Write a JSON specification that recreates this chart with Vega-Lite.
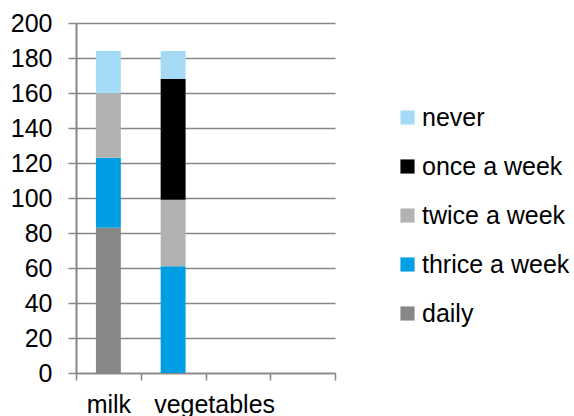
{
  "$schema": "https://vega.github.io/schema/vega-lite/v6.json",
  "width": 259,
  "height": 350,
  "autosize": "none",
  "padding": {"left": 76, "top": 23, "right": 239, "bottom": 43},
  "background": "white",
  "config": {
    "view": {"stroke": null},
    "font": "Liberation Sans"
  },
  "data": {
    "values": [
      {"item": "milk", "freq": "daily", "rank": 1, "count": 83},
      {"item": "milk", "freq": "thrice a week", "rank": 2, "count": 40},
      {"item": "milk", "freq": "twice a week", "rank": 3, "count": 37},
      {"item": "milk", "freq": "never", "rank": 5, "count": 24},
      {"item": "vegetables", "freq": "thrice a week", "rank": 2, "count": 61},
      {"item": "vegetables", "freq": "twice a week", "rank": 3, "count": 38},
      {"item": "vegetables", "freq": "once a week", "rank": 4, "count": 69},
      {"item": "vegetables", "freq": "never", "rank": 5, "count": 16}
    ]
  },
  "mark": {"type": "bar", "width": {"band": 0.385}},
  "encoding": {
    "x": {
      "field": "item",
      "type": "nominal",
      "scale": {"domain": ["milk", "vegetables", "c3", "c4"], "paddingInner": 0, "paddingOuter": 0},
      "axis": {
        "title": null,
        "labelAngle": 0,
        "labelExpr": "datum.value == 'milk' || datum.value == 'vegetables' ? datum.value : ''",
        "labelFont": "Liberation Sans",
        "labelFontSize": 25,
        "labelColor": "black",
        "labelPadding": 12,
        "labelOverlap": false,
        "labelOffset": {"condition": {"test": "datum.value == 'vegetables'", "value": 41}, "value": 0},
        "tickBand": "extent",
        "tickSize": 7,
        "tickColor": "#878787",
        "tickWidth": 1.5,
        "domainColor": "#878787",
        "domainWidth": 1.5,
        "grid": false
      }
    },
    "y": {
      "field": "count",
      "type": "quantitative",
      "stack": "zero",
      "scale": {"domain": [0, 200], "nice": false},
      "axis": {
        "title": null,
        "values": [0, 20, 40, 60, 80, 100, 120, 140, 160, 180, 200],
        "labelFont": "Liberation Sans",
        "labelFontSize": 25,
        "labelColor": "black",
        "labelPadding": 16,
        "tickSize": 8,
        "tickColor": "#878787",
        "tickWidth": 1.5,
        "domainColor": "#878787",
        "domainWidth": 2,
        "grid": true,
        "gridColor": "#878787",
        "gridWidth": 1.5
      }
    },
    "color": {
      "field": "freq",
      "type": "nominal",
      "sort": ["never", "once a week", "twice a week", "thrice a week", "daily"],
      "scale": {
        "domain": ["never", "once a week", "twice a week", "thrice a week", "daily"],
        "range": ["#A6DBF7", "#000000", "#B2B2B2", "#009FE3", "#878787"]
      },
      "legend": {
        "title": null,
        "orient": "none",
        "legendX": 319,
        "legendY": 82,
        "symbolType": "square",
        "symbolSize": 200,
        "symbolStrokeWidth": 0,
        "labelFont": "Liberation Sans",
        "labelFontSize": 25,
        "labelColor": "black",
        "labelOffset": 2,
        "rowPadding": 23,
        "labelLimit": 300
      }
    },
    "order": {"field": "rank", "sort": "ascending"}
  }
}
